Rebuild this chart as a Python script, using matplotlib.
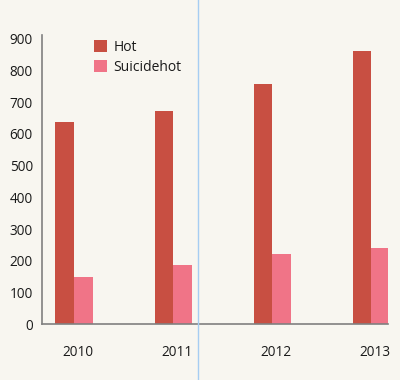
import matplotlib
matplotlib.use("Agg")
import matplotlib.pyplot as plt
import numpy as np
from matplotlib.lines import Line2D

years = ["2010", "2011", "2012", "2013"]
hot = [637, 672, 758, 860]
suicidehot = [150, 188, 220, 240]

plt.rcParams['font.family'] = ['Open Sans', 'DejaVu Sans']

bg = '#f8f6f0'
fig = plt.figure(figsize=(4.0, 3.8), dpi=100, facecolor=bg)
ax = fig.add_axes([0.105, 0.147, 0.865, 0.761])
ax.set_facecolor(bg)

x = np.arange(len(years))
w = 0.187
ax.bar(x - w/2, hot, width=w, color='#c84f42', label='Hot')
ax.bar(x + w/2, suicidehot, width=w, color='#f07487', label='Suicidehot')

ax.set_xlim(-0.323, 3.17)
ax.set_ylim(0, 912)
ax.set_yticks(range(0, 901, 100))
ax.set_xticks(x + 0.04)
ax.set_xticklabels(years)
ax.tick_params(axis='both', length=0, labelsize=9.8, colors='#1a1a1a')
ax.tick_params(axis='x', pad=15)
ax.tick_params(axis='y', pad=6.5)
for s in ['top', 'right']:
    ax.spines[s].set_visible(False)
for s in ['left', 'bottom']:
    ax.spines[s].set_color('#808080')
    ax.spines[s].set_linewidth(1.2)

leg = ax.legend(loc='upper left', bbox_to_anchor=(0.115, 1.025), frameon=False,
                fontsize=10, handlelength=0.95, handleheight=0.95, handletextpad=0.45,
                labelspacing=0.35)
for t in leg.get_texts():
    t.set_color('#1a1a1a')

fig.add_artist(Line2D([198/400, 198/400], [0, 1], transform=fig.transFigure,
                      color='#a6cdf2', linewidth=1.0))

fig.savefig('out.png', dpi=100, facecolor=bg)
